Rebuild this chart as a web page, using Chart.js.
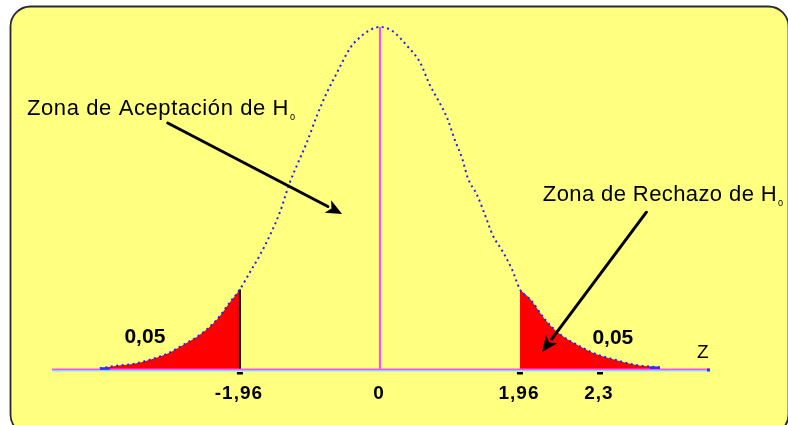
<!DOCTYPE html>
<html>
<head>
<meta charset="utf-8">
<script src="https://cdn.jsdelivr.net/npm/chart.js@4.4.1/dist/chart.umd.min.js"></script>
<style>
  html, body { margin: 0; padding: 0; background: #ffffff; }
  #wrap { width: 788px; height: 425px; position: relative; }
</style>
</head>
<body>
<div id="wrap"><canvas id="c"></canvas></div>
<script>
// ---- data ----
const zValues = [-3.92, -3.68, -3.46, -3.22, -2.98, -2.76, -2.52, -2.28, -2.10, -1.96,
  -1.82, -1.68, -1.54, -1.40, -1.26, -1.16, -1.02, -0.88, -0.74, -0.63, -0.42, -0.32, 0,
  0.18, 0.39, 0.56, 0.70, 0.80, 0.94, 1.05, 1.15, 1.23, 1.36, 1.47, 1.58, 1.72, 1.85, 1.96,
  2.11, 2.31, 2.53, 2.77, 3.01, 3.29, 3.57, 3.92];
const density = [0.002, 0.005, 0.007, 0.012, 0.019, 0.029, 0.041, 0.059, 0.079, 0.094,
  0.114, 0.134, 0.157, 0.184, 0.219, 0.239, 0.266, 0.297, 0.324, 0.342, 0.375, 0.385, 0.400,
  0.395, 0.377, 0.359, 0.332, 0.317, 0.294, 0.268, 0.247, 0.224, 0.204, 0.181, 0.157, 0.138, 0.117, 0.094,
  0.082, 0.059, 0.041, 0.029, 0.019, 0.012, 0.006, 0.003];
const criticalLeft = -1.96;
const criticalRight = 1.96;
const tickValues = [-1.96, 0, 1.96, 3.08];
const tickLabels = ['-1,96', '0', '1,96', '2,3'];
const tickMarks = [-1.96, 1.96, 3.08];
const alphaLabel = '0,05';
const acceptText = 'Zona de Aceptación de H';
const rejectText = 'Zona de Rechazo de H';
const axisName = 'Z';

// ---- derived tables ----
const curvePts = zValues.map((z, i) => ({ x: z, y: density[i] }));
const leftTail = curvePts.filter(p => p.x <= criticalLeft + 1e-9);
const rightTail = curvePts.filter(p => p.x >= criticalRight - 1e-9);
const peak = curvePts.find(p => p.x === 0);
const leftEdge = curvePts.find(p => p.x === criticalLeft);
const firstPt = curvePts[0], lastPt = curvePts[curvePts.length - 1];

const FONT = '"Liberation Sans", Arial, sans-serif';

function txt(ctx, s, x, y, font, align, spacing) {
  ctx.save();
  ctx.font = font;
  ctx.fillStyle = '#000';
  ctx.textAlign = align || 'left';
  ctx.textBaseline = 'alphabetic';
  if ('letterSpacing' in ctx) ctx.letterSpacing = (spacing || 0) + 'px';
  ctx.fillText(s, x, y);
  const w = ctx.measureText(s).width;
  ctx.restore();
  return w;
}

function arrow(ctx, x1, y1, x2, y2) {
  const a = Math.atan2(y2 - y1, x2 - x1);
  const L = 16, W = 7;
  const bx = x2 - L * Math.cos(a), by = y2 - L * Math.sin(a);
  ctx.save();
  ctx.strokeStyle = '#000';
  ctx.lineWidth = 3;
  ctx.lineCap = 'round';
  ctx.beginPath();
  ctx.moveTo(x1, y1);
  ctx.lineTo(bx, by);
  ctx.stroke();
  ctx.fillStyle = '#000';
  ctx.beginPath();
  ctx.moveTo(x2, y2);
  ctx.lineTo(bx + W * Math.sin(a), by - W * Math.cos(a));
  ctx.lineTo(bx + 4 * Math.cos(a), by + 4 * Math.sin(a));
  ctx.lineTo(bx - W * Math.sin(a), by + W * Math.cos(a));
  ctx.closePath();
  ctx.fill();
  ctx.restore();
}

const framePlugin = {
  id: 'frame',
  beforeDraw(chart) {
    const ctx = chart.ctx;
    const W = chart.width, H = chart.height;
    ctx.save();
    ctx.fillStyle = '#ffffff';
    ctx.fillRect(0, 0, W, H);
    ctx.beginPath();
    ctx.roundRect(10.5, 6.5, W - 10, H + 3, 20);
    ctx.fillStyle = '#ffff80';
    ctx.fill();
    ctx.lineWidth = 1.8;
    ctx.strokeStyle = '#2a2a2a';
    ctx.stroke();
    ctx.restore();
  }
};

const overlayPlugin = {
  id: 'overlay',
  afterDatasetsDraw(chart) {
    const ctx = chart.ctx;
    const xs = chart.scales.x, ys = chart.scales.y;
    const X = v => xs.getPixelForValue(v);
    const Y = v => ys.getPixelForValue(v);
    const ca = chart.chartArea;
    const y0 = Y(0);

    // x axis line (magenta over cyan)
    ctx.save();
    ctx.fillStyle = '#70ffff';
    ctx.fillRect(ca.left, y0, ca.right - ca.left, 1.5);
    ctx.fillStyle = '#ff50ff';
    ctx.fillRect(ca.left, y0 - 1.5, ca.right - ca.left, 1.8);
    ctx.fillStyle = '#3030ff';
    ctx.fillRect(ca.right - 3, y0 - 1.5, 3, 3);
    // blue tail ends
    ctx.fillRect(X(firstPt.x), Y(firstPt.y) - 1, 10, 2.5);
    ctx.fillRect(X(lastPt.x) - 10, Y(lastPt.y) - 1, 10, 2.5);
    // tick marks
    ctx.fillStyle = '#000';
    tickMarks.forEach(v => ctx.fillRect(X(v) - 3, y0 + 2, 6, 2.5));
    ctx.restore();

    // tick labels
    tickValues.forEach((v, i) => {
      txt(ctx, tickLabels[i], X(v) - 1, y0 + 29, 'bold 19px ' + FONT, 'center', 1);
    });

    // alpha labels
    txt(ctx, alphaLabel, X(-3.29), Y(0.032), 'bold 21px ' + FONT, 'center', 0);
    txt(ctx, alphaLabel, X(3.26), Y(0.030), 'bold 21px ' + FONT, 'center', 0);

    // axis name
    txt(ctx, axisName, X(4.52), Y(0.014), '19px ' + FONT, 'center', 0);

    // zone labels
    const w1 = txt(ctx, acceptText, X(-4.94), Y(0.297), '22px ' + FONT, 'left', 0.6);
    txt(ctx, '0', X(-4.94) + w1 + 1, Y(0.291), '9px ' + FONT, 'left', 0);
    const w2 = txt(ctx, rejectText, X(2.28), Y(0.197), '22px ' + FONT, 'left', 0.4);
    txt(ctx, '0', X(2.28) + w2 + 1, Y(0.191), '9px ' + FONT, 'left', 0);

    // arrows
    arrow(ctx, X(-2.97), Y(0.288), X(-0.53), Y(0.182));
    arrow(ctx, X(3.73), Y(0.184), X(2.27), Y(0.021));
  }
};

new Chart(document.getElementById('c'), {
  type: 'line',
  data: {
    datasets: [
      {
        label: 'curva',
        data: curvePts,
        borderColor: '#1e1eff',
        borderWidth: 2,
        borderDash: [2, 3.5],
        pointRadius: 0,
        fill: false,
        cubicInterpolationMode: 'monotone',
        clip: false,
        order: 1
      },
      {
        label: 'centro',
        data: [{ x: 0, y: 0 }, { x: 0, y: peak.y }],
        borderColor: '#ff40ff',
        borderWidth: 2,
        pointRadius: 0,
        fill: false,
        clip: false,
        order: 2
      },
      {
        label: 'critico',
        data: [{ x: criticalLeft, y: 0 }, { x: criticalLeft, y: leftEdge.y }],
        borderColor: '#000000',
        borderWidth: 2,
        pointRadius: 0,
        fill: false,
        clip: false,
        order: 2
      },
      {
        label: 'cola izquierda',
        data: leftTail,
        borderColor: 'rgba(0,0,0,0)',
        borderWidth: 0,
        backgroundColor: '#ff0000',
        pointRadius: 0,
        fill: 'origin',
        cubicInterpolationMode: 'monotone',
        clip: false,
        order: 3
      },
      {
        label: 'cola derecha',
        data: rightTail,
        borderColor: 'rgba(0,0,0,0)',
        borderWidth: 0,
        backgroundColor: '#ff0000',
        pointRadius: 0,
        fill: 'origin',
        cubicInterpolationMode: 'monotone',
        clip: false,
        order: 3
      }
    ]
  },
  options: {
    responsive: true,
    maintainAspectRatio: false,
    animation: false,
    devicePixelRatio: 1,
    layout: { padding: { left: 52, right: 78, top: 27, bottom: 55 } },
    plugins: { legend: { display: false }, tooltip: { enabled: false } },
    scales: {
      x: { type: 'linear', min: -4.59, max: 4.62, display: false },
      y: { type: 'linear', min: 0, max: 0.4, display: false }
    }
  },
  plugins: [framePlugin, overlayPlugin]
});
</script>
</body>
</html>
